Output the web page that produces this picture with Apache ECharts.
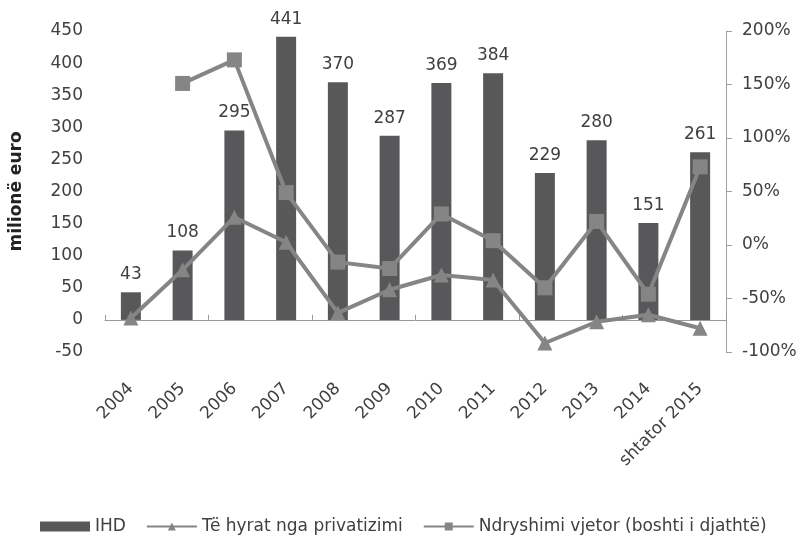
<!DOCTYPE html>
<html>
<head>
<meta charset="utf-8">
<style>
  html, body { margin: 0; padding: 0; background: #fff; }
  #chart { width: 804px; height: 535px; }
</style>
<script src="https://cdn.jsdelivr.net/npm/echarts@6/dist/echarts.min.js"></script>
</head>
<body>
<div id="chart"></div>
<script>
// categories
var years = ['2004', '2005', '2006', '2007', '2008', '2009', '2010', '2011', '2012', '2013', '2014', 'shtator 2015'];
// IHD, milionë euro
var ihd = [43, 108, 295, 441, 370, 287, 369, 384, 229, 280, 151, 261];
// Të hyrat nga privatizimi, milionë euro
var privatizimi = [3, 78, 160, 121, 11, 47, 70, 62, -36, -3, 8, -13];
// Ndryshimi vjetor, % (right axis)
var ndryshimi = [null, 151, 173, 49, -16, -22, 29, 4, -40, 22, -46, 73];

var textColor = '#404040';
var font = 'DejaVu Sans, sans-serif';

var chart = echarts.init(document.getElementById('chart'));
chart.setOption({
  animation: false,
  textStyle: { fontFamily: font },
  grid: { left: 100, right: 78, top: 31, bottom: 183, containLabel: false },
  legend: {
    top: 513,
    left: 35,
    itemGap: 20,
    itemWidth: 50,
    itemHeight: 10,
    textStyle: { fontSize: 17, color: textColor, fontFamily: font },
    data: [
      { name: 'IHD', icon: 'rect', itemStyle: { color: '#58585a' } },
      { name: 'Të hyrat nga privatizimi' },
      { name: 'Ndryshimi vjetor (boshti i djathtë)' }
    ]
  },
  xAxis: [{
    type: 'category',
    data: years,
    axisLine: { show: false, onZero: false },
    axisTick: { show: false },
    axisLabel: { rotate: 45, margin: 34, fontSize: 17, color: textColor, interval: 0 }
  }, {
    type: 'category',
    data: years,
    axisLine: { show: true, onZero: true, lineStyle: { color: '#999', width: 1 } },
    axisTick: { show: true, length: 5, lineStyle: { color: '#999' } },
    axisLabel: { show: false }
  }],
  yAxis: [{
    type: 'value',
    min: -50, max: 450, interval: 50,
    name: 'milionë euro',
    nameLocation: 'middle',
    nameGap: 80,
    nameRotate: 90,
    nameTextStyle: { fontSize: 17, fontWeight: 'bold', color: '#222', fontFamily: font },
    axisLine: { show: false },
    axisTick: { show: false },
    splitLine: { show: false },
    axisLabel: { fontSize: 17, color: textColor, margin: 22 }
  }, {
    type: 'value',
    min: -100, max: 200, interval: 50,
    position: 'right',
    axisLine: { show: true, lineStyle: { color: '#a0a0a0' } },
    axisTick: { show: true, inside: false, length: 6, lineStyle: { color: '#a0a0a0' } },
    splitLine: { show: false },
    axisLabel: { formatter: '{value}%', fontSize: 17, color: textColor, margin: 16 }
  }],
  series: [{
    name: 'IHD',
    type: 'bar',
    data: ihd,
    barWidth: 20,
    itemStyle: { color: '#58585a' },
    label: { show: true, position: 'top', distance: 9, fontSize: 17, color: textColor }
  }, {
    name: 'Të hyrat nga privatizimi',
    type: 'line',
    data: privatizimi,
    symbol: 'triangle',
    symbolSize: 15,
    itemStyle: { color: '#858585' },
    lineStyle: { color: '#858585', width: 4 }
  }, {
    name: 'Ndryshimi vjetor (boshti i djathtë)',
    type: 'line',
    yAxisIndex: 1,
    data: ndryshimi,
    symbol: 'rect',
    symbolSize: 15,
    itemStyle: { color: '#858585' },
    lineStyle: { color: '#858585', width: 4 }
  }]
});
</script>
</body>
</html>
